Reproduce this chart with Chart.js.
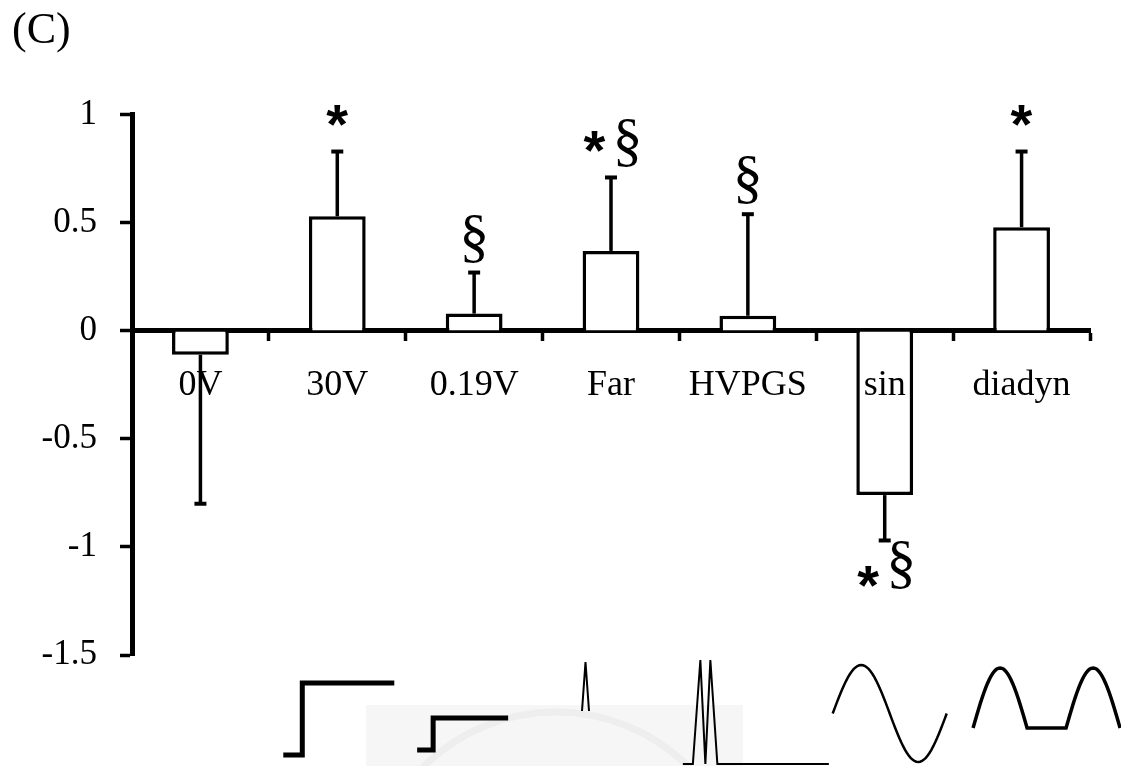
<!DOCTYPE html>
<html>
<head>
<meta charset="utf-8">
<script src="https://cdn.jsdelivr.net/npm/chart.js@4.4.1/dist/chart.umd.min.js"></script>
<style>
  html, body { margin: 0; padding: 0; background: #fff; }
  #wrap { width: 1121px; height: 766px; }
</style>
</head>
<body>
<div id="wrap"><canvas id="grafico" width="1121" height="766"></canvas></div>
<script>
// stimulation groups and their mean change (+ one-sided SD)
const categories = ['0V', '30V', '0.19V', 'Far', 'HVPGS', 'sin', 'diadyn'];
const means = [-0.11, 0.53, 0.08, 0.37, 0.07, -0.76, 0.48];
const sds = [0.69, 0.30, 0.19, 0.34, 0.47, 0.21, 0.35];
const marks = ['', '*', '§', '*§', '§', '*§', '*'];
const yTicks = [-1.5, -1, -0.5, 0, 0.5, 1];

const serif = '"Liberation Serif", "Times New Roman", serif';
const sans = '"Liberation Sans", Arial, sans-serif';

// error bars and significance signs
const errorBars = {
    id: 'errorBars',
    afterDatasetsDraw(chart) {
        const ctx = chart.ctx;
        const y = chart.scales.y;
        const meta = chart.getDatasetMeta(0);
        ctx.save();
        ctx.strokeStyle = '#000';
        ctx.fillStyle = '#000';
        meta.data.forEach((bar, i) => {
            const dir = means[i] < 0 ? -1 : 1;
            const y0 = y.getPixelForValue(means[i]);
            const y1 = y.getPixelForValue(means[i] + dir * sds[i]);
            ctx.lineWidth = 3.5;
            ctx.beginPath();
            ctx.moveTo(bar.x, y0);
            ctx.lineTo(bar.x, y1);
            ctx.stroke();
            ctx.lineWidth = 4;
            ctx.beginPath();
            ctx.moveTo(bar.x - 6, y1);
            ctx.lineTo(bar.x + 6, y1);
            ctx.stroke();

            const m = marks[i];
            if (!m) return;
            const hasStar = m.includes('*');
            const hasSec = m.includes('§');
            ctx.font = 'bold 56px ' + sans;
            const st = ctx.measureText('*');
            const stW = hasStar ? st.actualBoundingBoxRight + st.actualBoundingBoxLeft : 0;
            ctx.font = '60px ' + serif;
            const se = ctx.measureText('§');
            const seW = hasSec ? se.actualBoundingBoxRight + se.actualBoundingBoxLeft : 0;
            const gap = hasStar && hasSec ? 11 : 0;
            let x = bar.x - (stW + gap + seW) / 2;
            ctx.textBaseline = 'alphabetic';
            ctx.textAlign = 'left';
            if (hasStar) {
                const cy = dir > 0 ? y1 - 36 : y1 + 36;
                const h = st.actualBoundingBoxAscent + st.actualBoundingBoxDescent;
                ctx.font = 'bold 56px ' + sans;
                ctx.fillText('*', x + st.actualBoundingBoxLeft, cy - h / 2 + st.actualBoundingBoxAscent);
                x += stW + gap;
            }
            if (hasSec) {
                ctx.font = '60px ' + serif;
                const base = dir > 0
                    ? y1 - 10 - se.actualBoundingBoxDescent
                    : y1 + 1 + se.actualBoundingBoxAscent;
                ctx.fillText('§', x + se.actualBoundingBoxLeft, base);
            }
        });
        ctx.restore();
    }
};

// little stimulus waveform pictograms under the groups
const waveIcons = {
    id: 'waveIcons',
    afterDraw(chart) {
        const ctx = chart.ctx;
        const xs = chart.scales.x;
        const B = chart.chartArea.bottom;
        const cx = i => xs.getPixelForValue(i);
        const poly = (pts, w) => {
            ctx.lineWidth = w;
            ctx.beginPath();
            pts.forEach(([px, py], k) => k ? ctx.lineTo(px, py) : ctx.moveTo(px, py));
            ctx.stroke();
        };
        ctx.save();
        ctx.strokeStyle = '#000';
        ctx.lineJoin = 'miter';

        // faint stamp behind the middle icons
        const wl = cx(2) - 108, wr = cx(4) - 5;
        ctx.fillStyle = '#f6f6f6';
        ctx.fillRect(wl, B + 50, wr - wl, chart.height - B - 50);
        ctx.save();
        ctx.beginPath();
        ctx.rect(wl, B + 50, wr - wl, chart.height - B - 50);
        ctx.clip();
        ctx.strokeStyle = '#eeeeee';
        ctx.lineWidth = 7;
        ctx.beginPath();
        ctx.arc(cx(3) - 55, B + 245, 188, 0, Math.PI * 2);
        ctx.stroke();
        ctx.restore();

        // 30V step
        let c = cx(1);
        poly([[c - 54, B + 100], [c - 35, B + 100], [c - 35, B + 28], [c + 57, B + 28]], 5);
        // 0.19V step
        c = cx(2);
        poly([[c - 57, B + 95], [c - 41, B + 95], [c - 41, B + 63], [c + 34, B + 63]], 5);
        // Faraday spike
        c = cx(3);
        poly([[c - 29, B + 56], [c - 25.5, B + 7], [c - 22, B + 56]], 2);
        // HVPGS twin spikes
        c = cx(4);
        poly([[c - 65, B + 109], [c - 55, B + 109], [c - 47.5, B + 5], [c - 42.5, B + 109],
              [c - 37.5, B + 5], [c - 30.5, B + 109], [c + 81, B + 109]], 2);
        // sine
        c = cx(5);
        const sinPts = [];
        for (let k = 0; k <= 60; k++) {
            const t = k / 60;
            sinPts.push([c - 52 + 114 * t, B + 58.5 - 48.5 * Math.sin(2 * Math.PI * t)]);
        }
        poly(sinPts, 2.5);
        // diadynamic: rectified half waves with a pause
        c = cx(6);
        const dd = [];
        const arch = x0 => {
            for (let k = 0; k <= 30; k++) {
                const t = k / 30;
                dd.push([x0 + 54 * t, B + 73 - 60 * Math.sin(Math.PI * t)]);
            }
        };
        arch(c - 48.5);
        arch(c + 44.5);
        poly(dd, 3.5);
        ctx.restore();
    }
};

document.addEventListener('DOMContentLoaded', () => {
    const ctx = document.getElementById('grafico').getContext('2d');
    new Chart(ctx, {
        type: 'bar',
        data: {
            labels: categories,
            datasets: [{
                data: means,
                backgroundColor: '#fff',
                borderColor: '#000',
                borderWidth: 3.5,
                categoryPercentage: 1,
                barPercentage: 0.415
            }]
        },
        options: {
            responsive: false,
            animation: false,
            layout: { padding: { top: 0, left: 12, right: 31, bottom: 111 } },
            plugins: {
                legend: { display: false },
                tooltip: { enabled: false },
                title: {
                    display: true,
                    text: '(C)',
                    align: 'start',
                    color: '#000',
                    font: { family: serif, size: 44, weight: 'normal', lineHeight: 1.2 },
                    padding: { top: 5, bottom: 57 }
                }
            },
            scales: {
                x: {
                    position: { y: 0 },
                    offset: true,
                    border: { display: true, color: '#000', width: 5 },
                    grid: {
                        offset: true,
                        drawOnChartArea: false,
                        drawTicks: true,
                        tickLength: 8,
                        tickWidth: 3.5,
                        tickColor: '#000'
                    },
                    ticks: {
                        z: 1,
                        color: '#000',
                        font: { family: serif, size: 36 },
                        padding: 25,
                        autoSkip: false,
                        maxRotation: 0
                    }
                },
                y: {
                    min: -1.5,
                    max: 1,
                    afterBuildTicks: axis => { axis.ticks = yTicks.map(v => ({ value: v })); },
                    afterFit: axis => { axis.width = 120; },
                    border: { display: true, color: '#000', width: 5 },
                    grid: {
                        drawOnChartArea: false,
                        drawTicks: true,
                        tickLength: 12,
                        tickWidth: 3.5,
                        tickColor: '#000'
                    },
                    ticks: {
                        color: '#000',
                        font: { family: serif, size: 35 },
                        padding: 23,
                        callback: v => String(v)
                    }
                }
            }
        },
        plugins: [errorBars, waveIcons]
    });
});
</script>
</body>
</html>
